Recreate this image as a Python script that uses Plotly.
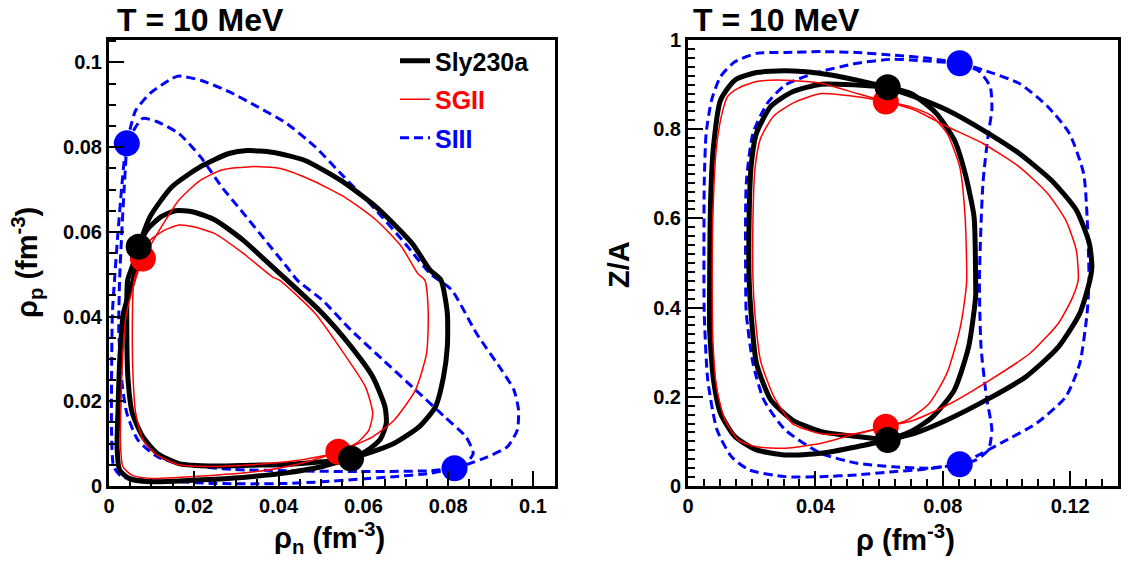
import plotly.graph_objects as go

# ---------------- data: left panel (rho_n, rho_p) ----------------
# SLy230a
sly_L_dot_rn = [0.0070, 0.0571]
sly_L_dot_rp = [0.0565, 0.0065]
sly_L_outer_top_rn = [0.0070, 0.0097, 0.0148, 0.0216, 0.0283, 0.0326, 0.0385, 0.0461, 0.0546, 0.0630, 0.0715, 0.0757, 0.0783, 0.0798, 0.0798, 0.0789, 0.0770, 0.0732, 0.0673, 0.0622, 0.0571]
sly_L_outer_top_rp = [0.0565, 0.0636, 0.0706, 0.0754, 0.0785, 0.0792, 0.0788, 0.0769, 0.0722, 0.0659, 0.0573, 0.0510, 0.0486, 0.0408, 0.0329, 0.0258, 0.0187, 0.0140, 0.0101, 0.0081, 0.0065]
sly_L_outer_bot_rn = [0.0571, 0.0503, 0.0419, 0.0334, 0.0250, 0.0165, 0.0097, 0.0047, 0.0025, 0.0019, 0.0021, 0.0025, 0.0034, 0.0057, 0.0063, 0.0070]
sly_L_outer_bot_rp = [0.0065, 0.0046, 0.0031, 0.0022, 0.0016, 0.0012, 0.0010, 0.0018, 0.0038, 0.0093, 0.0172, 0.0290, 0.0408, 0.0486, 0.0526, 0.0565]
sly_L_inner_top_rn = [0.0070, 0.0089, 0.0123, 0.0157, 0.0199, 0.0250, 0.0317, 0.0376, 0.0420, 0.0503, 0.0571, 0.0622, 0.0651, 0.0654, 0.0639, 0.0605, 0.0571]
sly_L_inner_top_rp = [0.0565, 0.0604, 0.0636, 0.0650, 0.0647, 0.0628, 0.0580, 0.0526, 0.0486, 0.0408, 0.0329, 0.0258, 0.0187, 0.0148, 0.0109, 0.0081, 0.0065]
sly_L_inner_bot_rn = [0.0571, 0.0503, 0.0419, 0.0334, 0.0250, 0.0165, 0.0114, 0.0080, 0.0055, 0.0045, 0.0042, 0.0044, 0.0055, 0.0070]
sly_L_inner_bot_rp = [0.0065, 0.0057, 0.0051, 0.0049, 0.0047, 0.0053, 0.0077, 0.0116, 0.0172, 0.0250, 0.0368, 0.0486, 0.0518, 0.0565]

# SGII
sg_L_dot_rn = [0.0080, 0.0541]
sg_L_dot_rp = [0.0537, 0.0081]
sg_L_outer_top_rn = [0.0080, 0.0114, 0.0165, 0.0216, 0.0266, 0.0334, 0.0402, 0.0478, 0.0554, 0.0630, 0.0690, 0.0728, 0.0745, 0.0753, 0.0749, 0.0723, 0.0673, 0.0622, 0.0571, 0.0541]
sg_L_outer_top_rp = [0.0537, 0.0596, 0.0675, 0.0722, 0.0746, 0.0754, 0.0750, 0.0722, 0.0683, 0.0628, 0.0565, 0.0502, 0.0486, 0.0408, 0.0313, 0.0227, 0.0156, 0.0116, 0.0093, 0.0081]
sg_L_inner_top_rn = [0.0080, 0.0097, 0.0131, 0.0165, 0.0199, 0.0250, 0.0317, 0.0385, 0.0402, 0.0486, 0.0554, 0.0605, 0.0622, 0.0613, 0.0584, 0.0541]
sg_L_inner_top_rp = [0.0537, 0.0580, 0.0604, 0.0616, 0.0612, 0.0596, 0.0549, 0.0494, 0.0486, 0.0408, 0.0313, 0.0234, 0.0172, 0.0132, 0.0101, 0.0081]
sg_L_inner_bot_rn = [0.0541, 0.0503, 0.0419, 0.0334, 0.0250, 0.0165, 0.0114, 0.0080, 0.0063, 0.0057, 0.0055, 0.0059, 0.0080]
sg_L_inner_bot_rp = [0.0081, 0.0071, 0.0057, 0.0050, 0.0046, 0.0050, 0.0073, 0.0109, 0.0172, 0.0250, 0.0368, 0.0486, 0.0537]
sg_L_outer_bot_rn = [0.0541, 0.0470, 0.0400, 0.0320, 0.0240, 0.0160, 0.0100, 0.0055, 0.0033, 0.0027, 0.0028, 0.0032, 0.0040, 0.0060, 0.0080]
sg_L_outer_bot_rp = [0.0081, 0.0058, 0.0042, 0.0031, 0.0025, 0.0020, 0.0018, 0.0025, 0.0045, 0.0100, 0.0180, 0.0300, 0.0400, 0.0480, 0.0537]

# SIII
s3_L_dot_rn = [0.0042, 0.0815]
s3_L_dot_rp = [0.0809, 0.0042]
s3_L_outer_top_rn = [0.0042, 0.0051, 0.0063, 0.0097, 0.0148, 0.0165, 0.0216, 0.0283, 0.0351, 0.0419, 0.0486, 0.0554, 0.0630, 0.0698, 0.0757, 0.0808, 0.0867, 0.0926, 0.0955, 0.0966, 0.0963, 0.0940, 0.0893, 0.0842, 0.0815]
s3_L_outer_top_rp = [0.0809, 0.0848, 0.0887, 0.0927, 0.0962, 0.0968, 0.0958, 0.0931, 0.0895, 0.0856, 0.0801, 0.0730, 0.0651, 0.0573, 0.0502, 0.0463, 0.0360, 0.0274, 0.0227, 0.0179, 0.0132, 0.0093, 0.0069, 0.0050, 0.0042]
s3_L_inner_top_rn = [0.0042, 0.0063, 0.0080, 0.0114, 0.0165, 0.0216, 0.0266, 0.0317, 0.0368, 0.0419, 0.0444, 0.0503, 0.0571, 0.0647, 0.0723, 0.0791, 0.0842, 0.0859, 0.0842, 0.0815]
s3_L_inner_top_rp = [0.0809, 0.0848, 0.0868, 0.0860, 0.0832, 0.0777, 0.0706, 0.0644, 0.0581, 0.0518, 0.0486, 0.0439, 0.0368, 0.0297, 0.0227, 0.0164, 0.0116, 0.0077, 0.0053, 0.0042]
s3_L_outer_bot_rn = [0.0815, 0.0757, 0.0673, 0.0588, 0.0503, 0.0419, 0.0334, 0.0250, 0.0165, 0.0080, 0.0030, 0.0011, 0.0006, 0.0006, 0.0008, 0.0013, 0.0021, 0.0030, 0.0036, 0.0042]
s3_L_outer_bot_rp = [0.0042, 0.0030, 0.0022, 0.0016, 0.0010, 0.0006, 0.0005, 0.0006, 0.0010, 0.0014, 0.0022, 0.0046, 0.0132, 0.0250, 0.0408, 0.0486, 0.0596, 0.0706, 0.0769, 0.0809]
s3_L_inner_bot_rn = [0.0815, 0.0757, 0.0588, 0.0419, 0.0292, 0.0182, 0.0114, 0.0068, 0.0042, 0.0030, 0.0023, 0.0025, 0.0030, 0.0036, 0.0042]
s3_L_inner_bot_rp = [0.0042, 0.0036, 0.0034, 0.0036, 0.0039, 0.0050, 0.0069, 0.0109, 0.0172, 0.0250, 0.0368, 0.0486, 0.0596, 0.0706, 0.0809]

# ---------------- data: right panel (rho, Z/A) ----------------
sly_R_dot_r = [0.0627, 0.0627]
sly_R_dot_z = [0.894, 0.103]
sly_R_outer_left_r = [0.0627, 0.0531, 0.0418, 0.0305, 0.0215, 0.0147, 0.0102, 0.0080, 0.0071, 0.0068, 0.0068, 0.0080, 0.0102, 0.0147, 0.0215, 0.0305, 0.0418, 0.0531, 0.0627]
sly_R_outer_left_z = [0.894, 0.910, 0.925, 0.931, 0.927, 0.910, 0.865, 0.761, 0.641, 0.462, 0.350, 0.238, 0.163, 0.111, 0.081, 0.0695, 0.0732, 0.088, 0.103]
sly_R_inner_left_r = [0.0627, 0.0531, 0.0418, 0.0328, 0.0260, 0.0215, 0.0198, 0.0192, 0.0192, 0.0198, 0.0215, 0.0260, 0.0328, 0.0418, 0.0531, 0.0627]
sly_R_inner_left_z = [0.894, 0.899, 0.901, 0.884, 0.851, 0.791, 0.716, 0.604, 0.462, 0.387, 0.275, 0.193, 0.148, 0.122, 0.111, 0.103]
sly_R_outer_right_r = [0.0627, 0.0711, 0.0813, 0.0926, 0.1039, 0.1140, 0.1219, 0.1260, 0.1268, 0.1262, 0.1230, 0.1163, 0.1061, 0.0937, 0.0813, 0.0711, 0.0627]
sly_R_outer_right_z = [0.894, 0.873, 0.843, 0.798, 0.746, 0.686, 0.619, 0.544, 0.492, 0.462, 0.387, 0.312, 0.245, 0.193, 0.148, 0.118, 0.103]
sly_R_inner_right_r = [0.0627, 0.0700, 0.0779, 0.0836, 0.0870, 0.0898, 0.0903, 0.0903, 0.0881, 0.0836, 0.0768, 0.0700, 0.0627]
sly_R_inner_right_z = [0.894, 0.880, 0.836, 0.776, 0.701, 0.604, 0.462, 0.424, 0.312, 0.215, 0.155, 0.122, 0.103]

sg_R_dot_r = [0.0621, 0.0621]
sg_R_dot_z = [0.862, 0.133]
sg_R_outer_left_r = [0.0621, 0.0531, 0.0418, 0.0305, 0.0215, 0.0158, 0.0124, 0.0105, 0.0088, 0.0078, 0.0076, 0.0078, 0.0090, 0.0115, 0.0158, 0.0215, 0.0305, 0.0418, 0.0531, 0.0621]
sg_R_outer_left_z = [0.862, 0.880, 0.903, 0.910, 0.907, 0.892, 0.873, 0.830, 0.750, 0.600, 0.460, 0.330, 0.220, 0.150, 0.103, 0.088, 0.0845, 0.0957, 0.118, 0.133]
sg_R_inner_left_r = [0.0621, 0.0531, 0.0418, 0.0328, 0.0270, 0.0228, 0.0210, 0.0204, 0.0204, 0.0210, 0.0228, 0.0270, 0.0328, 0.0418, 0.0531, 0.0621]
sg_R_inner_left_z = [0.862, 0.873, 0.880, 0.858, 0.830, 0.780, 0.710, 0.600, 0.462, 0.387, 0.280, 0.200, 0.140, 0.117, 0.118, 0.133]
sg_R_outer_right_r = [0.0621, 0.0711, 0.0813, 0.0926, 0.1039, 0.1129, 0.1186, 0.1219, 0.1225, 0.1208, 0.1163, 0.1073, 0.0949, 0.0824, 0.0711, 0.0621]
sg_R_outer_right_z = [0.862, 0.843, 0.806, 0.768, 0.716, 0.656, 0.596, 0.529, 0.462, 0.424, 0.365, 0.297, 0.238, 0.185, 0.148, 0.133]
sg_R_inner_right_r = [0.0621, 0.0700, 0.0765, 0.0813, 0.0853, 0.0870, 0.0875, 0.0870, 0.0853, 0.0813, 0.0757, 0.0689, 0.0621]
sg_R_inner_right_z = [0.862, 0.850, 0.830, 0.791, 0.716, 0.604, 0.462, 0.424, 0.350, 0.253, 0.185, 0.148, 0.133]

s3_R_dot_r = [0.0853, 0.0853]
s3_R_dot_z = [0.948, 0.0486]
s3_R_outer_left_r = [0.0853, 0.0757, 0.0644, 0.0531, 0.0418, 0.0305, 0.0215, 0.0147, 0.0102, 0.0074, 0.0057, 0.0051, 0.0050, 0.0051, 0.0062, 0.0091, 0.0136, 0.0192, 0.0305, 0.0418, 0.0531, 0.0644, 0.0734, 0.0802, 0.0853]
s3_R_outer_left_z = [0.948, 0.959, 0.966, 0.972, 0.974, 0.972, 0.970, 0.951, 0.918, 0.865, 0.791, 0.679, 0.462, 0.387, 0.238, 0.126, 0.066, 0.036, 0.021, 0.021, 0.025, 0.032, 0.037, 0.043, 0.0486]
s3_R_inner_left_r = [0.0853, 0.0700, 0.0644, 0.0531, 0.0396, 0.0305, 0.0249, 0.0204, 0.0183, 0.0181, 0.0183, 0.0204, 0.0238, 0.0305, 0.0418, 0.0531, 0.0644, 0.0757, 0.0853]
s3_R_inner_left_z = [0.948, 0.955, 0.957, 0.948, 0.925, 0.899, 0.858, 0.791, 0.679, 0.462, 0.387, 0.275, 0.193, 0.126, 0.073, 0.051, 0.043, 0.040, 0.0486]
s3_R_outer_right_r = [0.0853, 0.0926, 0.1039, 0.1129, 0.1197, 0.1242, 0.1253, 0.1259, 0.1253, 0.1230, 0.1186, 0.1095, 0.0982, 0.0903, 0.0853]
s3_R_outer_right_z = [0.948, 0.933, 0.903, 0.851, 0.791, 0.701, 0.604, 0.462, 0.387, 0.275, 0.200, 0.141, 0.096, 0.066, 0.0486]
s3_R_inner_right_r = [0.0853, 0.0915, 0.0949, 0.0954, 0.0943, 0.0926, 0.0915, 0.0920, 0.0937, 0.0954, 0.0943, 0.0903, 0.0853]
s3_R_inner_right_z = [0.948, 0.929, 0.895, 0.843, 0.791, 0.679, 0.462, 0.312, 0.200, 0.126, 0.081, 0.058, 0.0486]

model_names = ["Sly230a", "SGII", "SIII"]
model_colors = ["#000000", "#ff0000", "#0000ff"]

FONT = "Liberation Sans, Arial, sans-serif"

styles = {
    "Sly230a": dict(color="#000000", width=5),
    "SGII": dict(color="#ff0000", width=1.5),
    "SIII": dict(color="#0000ff", width=3, dash="9px,5px"),
}
rank = {"Sly230a": 1, "SGII": 2, "SIII": 3}

fig = go.Figure()
shown = set()


def add_arc(model, x, y, xa, ya):
    show = model not in shown
    shown.add(model)
    color = model_colors[model_names.index(model)]
    fig.add_trace(go.Scatter(
        x=x, y=y, xaxis=xa, yaxis=ya, mode="lines",
        line=dict(shape="spline", smoothing=0.6, **styles[model]),
        name=f'<span style="color:{color}">{model}</span>',
        legendgroup=model, showlegend=show, legendrank=rank[model],
        hoverinfo="skip",
    ))


def add_dots(model, x, y, xa, ya):
    color = model_colors[model_names.index(model)]
    fig.add_trace(go.Scatter(
        x=x, y=y, xaxis=xa, yaxis=ya, mode="markers",
        marker=dict(color=color, size=26, line=dict(width=0)),
        legendgroup=model, showlegend=False, hoverinfo="skip",
    ))


left_arcs = {
    "Sly230a": [(sly_L_outer_top_rn, sly_L_outer_top_rp), (sly_L_outer_bot_rn, sly_L_outer_bot_rp),
                (sly_L_inner_top_rn, sly_L_inner_top_rp), (sly_L_inner_bot_rn, sly_L_inner_bot_rp)],
    "SGII": [(sg_L_outer_top_rn, sg_L_outer_top_rp), (sg_L_outer_bot_rn, sg_L_outer_bot_rp),
             (sg_L_inner_top_rn, sg_L_inner_top_rp), (sg_L_inner_bot_rn, sg_L_inner_bot_rp)],
    "SIII": [(s3_L_outer_top_rn, s3_L_outer_top_rp), (s3_L_outer_bot_rn, s3_L_outer_bot_rp),
             (s3_L_inner_top_rn, s3_L_inner_top_rp), (s3_L_inner_bot_rn, s3_L_inner_bot_rp)],
}
right_arcs = {
    "Sly230a": [(sly_R_outer_left_r, sly_R_outer_left_z), (sly_R_inner_left_r, sly_R_inner_left_z),
                (sly_R_outer_right_r, sly_R_outer_right_z), (sly_R_inner_right_r, sly_R_inner_right_z)],
    "SGII": [(sg_R_outer_left_r, sg_R_outer_left_z), (sg_R_inner_left_r, sg_R_inner_left_z),
             (sg_R_outer_right_r, sg_R_outer_right_z), (sg_R_inner_right_r, sg_R_inner_right_z)],
    "SIII": [(s3_R_outer_left_r, s3_R_outer_left_z), (s3_R_inner_left_r, s3_R_inner_left_z),
             (s3_R_outer_right_r, s3_R_outer_right_z), (s3_R_inner_right_r, s3_R_inner_right_z)],
}

# drawing order: blue lines, black lines, red lines, then dots
for m in ["SIII", "Sly230a", "SGII"]:
    for xs, ys in left_arcs[m]:
        add_arc(m, xs, ys, "x", "y")
    for xs, ys in right_arcs[m]:
        add_arc(m, xs, ys, "x2", "y2")

add_dots("SIII", s3_L_dot_rn, s3_L_dot_rp, "x", "y")
add_dots("SGII", sg_L_dot_rn, sg_L_dot_rp, "x", "y")
add_dots("Sly230a", sly_L_dot_rn, sly_L_dot_rp, "x", "y")
add_dots("SIII", s3_R_dot_r, s3_R_dot_z, "x2", "y2")
add_dots("SGII", sg_R_dot_r, sg_R_dot_z, "x2", "y2")
add_dots("Sly230a", sly_R_dot_r, sly_R_dot_z, "x2", "y2")

W, H = 1133, 565
L, R, T, B = 109, 15, 40, 79
PW = W - L - R
PH = H - T - B


def px_x(p):
    return (p - L) / PW


def px_y(p):
    return (H - B - p) / PH


tickfont = dict(family=FONT, size=20, color="black", weight="bold")


def axis(domain, rng, dtick, minor_dtick, anchor):
    return dict(
        domain=domain, range=rng, anchor=anchor, dtick=dtick, tick0=0,
        ticks="inside", ticklen=15, tickwidth=2, tickcolor="black",
        minor=dict(dtick=minor_dtick, tick0=0, ticks="inside", ticklen=7, tickwidth=2, tickcolor="black"),
        showline=True, linewidth=3, linecolor="black", mirror=True,
        showgrid=False, zeroline=False, tickfont=tickfont, automargin=False,
    )


left_dom = [0, px_x(555)]
right_dom = [px_x(688), 1]

fig.update_layout(
    width=W, height=H,
    margin=dict(l=L, r=R, t=T, b=B, pad=0),
    paper_bgcolor="white", plot_bgcolor="white",
    xaxis=axis(left_dom, [0, 0.1052], 0.02, 0.005, "y"),
    yaxis=axis([0, 1], [0, 0.1053], 0.02, 0.005, "x"),
    xaxis2=axis(right_dom, [0, 0.135], 0.04, 0.005, "y2"),
    yaxis2=axis([0, 1], [0, 1], 0.2, 0.02, "x2"),
    xaxis3=dict(overlaying="x2", anchor="y2", range=[0, 0.135], tickmode="array",
                tickvals=[0.02, 0.06, 0.10], showticklabels=False, ticks="inside", ticklen=10, tickwidth=2,
                tickcolor="black", showline=False, showgrid=False, zeroline=False),
    yaxis3=dict(overlaying="y2", anchor="x2", range=[0, 1], tickmode="array",
                tickvals=[0.1, 0.3, 0.5, 0.7, 0.9], showticklabels=False, ticks="inside", ticklen=10, tickwidth=2,
                tickcolor="black", showline=False, showgrid=False, zeroline=False),
    showlegend=True,
    legend=dict(
        x=px_x(395), y=px_y(38), xanchor="left", yanchor="top",
        font=dict(family=FONT, size=25, color="black", weight="bold"),
        bgcolor="rgba(0,0,0,0)", borderwidth=0, traceorder="grouped", tracegroupgap=3,
    ),
)

title_font = dict(family=FONT, size=32, color="black", weight="bold")
axt_font = dict(family=FONT, size=29, color="black", weight="bold")

ann = [
    dict(text="T = 10 MeV", x=px_x(115), y=px_y(20.5), xanchor="left", yanchor="middle", font=title_font),
    dict(text="T = 10 MeV", x=px_x(691), y=px_y(20.5), xanchor="left", yanchor="middle", font=title_font),
    dict(text="ρ<sub>n</sub> (fm<sup>-3</sup>)", x=px_x(329), y=px_y(538), xanchor="center", yanchor="middle", font=axt_font),
    dict(text="ρ (fm<sup>-3</sup>)", x=px_x(905), y=px_y(538), xanchor="center", yanchor="middle", font=axt_font),
    dict(text="ρ<sub>p</sub> (fm<sup>-3</sup>)", x=px_x(27), y=px_y(263), xanchor="center", yanchor="middle", textangle=-90, font=axt_font),
    dict(text="Z/A", x=px_x(619), y=px_y(265), xanchor="center", yanchor="middle", textangle=-90, font=axt_font),
]
for a in ann:
    fig.add_annotation(xref="paper", yref="paper", showarrow=False, **a)

fig.write_html(
    "out.html",
    config={"displayModeBar": False},
    post_script="document.body.style.margin='0';document.body.style.overflow='hidden';",
)
